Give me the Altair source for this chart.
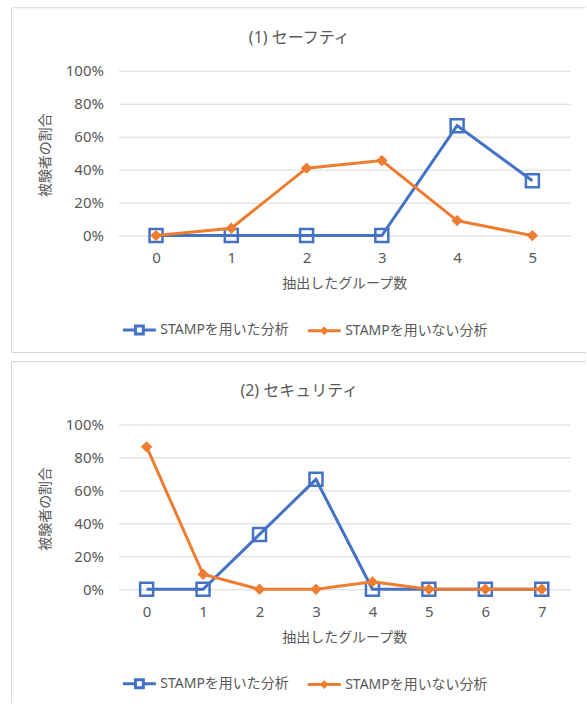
import altair as alt
import pandas as pd

# ---------------- data ----------------
series_names = ["STAMPを用いた分析", "STAMPを用いない分析"]
series_colors = ["#4472C4", "#ED7D31"]

titles = ["(1) セーフティ", "(2) セキュリティ"]

groups1 = ["0", "1", "2", "3", "4", "5"]
stamp1 = [0.0, 0.0, 0.0, 0.0, 0.667, 0.333]
nostamp1 = [0.0, 0.045, 0.409, 0.455, 0.091, 0.0]

groups2 = ["0", "1", "2", "3", "4", "5", "6", "7"]
stamp2 = [0.0, 0.0, 0.333, 0.667, 0.0, 0.0, 0.0, 0.0]
nostamp2 = [0.864, 0.091, 0.0, 0.0, 0.045, 0.0, 0.0, 0.0]

y_ticks = [0.0, 0.2, 0.4, 0.6, 0.8, 1.0]
x_title = "抽出したグループ数"
y_title = "被験者の割合"

# ---------------- style ----------------
FONT = "Noto Sans, Noto Sans CJK JP"
TEXT = "#595959"
GRID = "#D9D9D9"
W, H = 452, 165

legend_paths = [
    "M-1,0H-0.24M0.24,0H1M-0.24,-0.24H0.24V0.24H-0.24Z",
    "M-1,0H1M0,-0.14L0.14,0L0,0.14L-0.14,0Z",
]


def make_panel(title, groups, used, unused, box_bottom, bottom_edge):
    n = len(groups)
    df = pd.DataFrame({
        "group": list(groups) * 2,
        "series": [series_names[0]] * n + [series_names[1]] * n,
        "value": list(used) + list(unused),
    })
    x_enc = alt.X(
        "group:O", sort=list(groups),
        scale=alt.Scale(type="point", padding=0.5),
        title=x_title,
        axis=alt.Axis(labelAngle=0, ticks=False, domain=False, grid=False,
                      labelPadding=15, labelFontSize=15, labelColor=TEXT,
                      titleFontSize=14, titleColor=TEXT, titleFontWeight="normal",
                      titleY=48, titleBaseline="middle"),
    )
    y_enc = alt.Y(
        "value:Q", scale=alt.Scale(domain=[0, 1], nice=False), title=y_title,
        axis=alt.Axis(values=y_ticks, format=".0%", ticks=False, domain=False,
                      grid=True, gridColor=GRID, gridWidth=1,
                      labelPadding=15, labelFontSize=15, labelColor=TEXT,
                      titleFontSize=14, titleColor=TEXT, titleFontWeight="normal",
                      titleX=-73, titleY=84, titleBaseline="middle", titleAngle=270),
    )
    base = alt.Chart(df).encode(x=x_enc, y=y_enc)
    s0 = base.transform_filter(alt.datum.series == series_names[0])
    s1 = base.transform_filter(alt.datum.series == series_names[1])

    line0 = s0.mark_line(strokeWidth=3, color=series_colors[0])
    pts0 = s0.mark_point(shape="square", size=169, filled=False, strokeWidth=2.5,
                         opacity=1, color=series_colors[0])
    line1 = s1.mark_line(strokeWidth=3, color=series_colors[1])
    pts1 = s1.mark_point(shape="diamond", size=130, filled=True, opacity=1,
                         color=series_colors[1])

    legend_kw = dict(orient="none", legendX=3, legendY=241.5, direction="horizontal",
                     symbolSize=1089, symbolStrokeWidth=3, labelFontSize=14,
                     labelColor=TEXT, labelOffset=3, columnPadding=12, padding=0)
    leg = alt.Chart(df).transform_filter("false").mark_point(
        filled=False, opacity=1, strokeWidth=3
    ).encode(
        x=x_enc, y=y_enc,
        color=alt.Color("series:N", scale=alt.Scale(domain=series_names, range=series_colors),
                        title=None, legend=alt.Legend(**legend_kw)),
        shape=alt.Shape("series:N", scale=alt.Scale(domain=series_names, range=legend_paths),
                        title=None, legend=alt.Legend(**legend_kw)),
    )

    deco = alt.Chart(pd.DataFrame({"k": [0]}))
    title_mark = deco.mark_text(fontSize=16, color=TEXT, align="center", baseline="middle").encode(
        x=alt.value(181), y=alt.value(-33), text=alt.value(title))
    left_edge = deco.mark_rule(color=GRID, strokeWidth=1).encode(
        x=alt.value(-107), y=alt.value(-63), y2=alt.value(box_bottom))
    top_edge = deco.mark_rule(color=GRID, strokeWidth=1).encode(
        x=alt.value(-107), x2=alt.value(468), y=alt.value(-63))
    layers = [left_edge, top_edge]
    if bottom_edge:
        layers.append(deco.mark_rule(color=GRID, strokeWidth=1).encode(
            x=alt.value(-107), x2=alt.value(468), y=alt.value(box_bottom)))
    layers += [title_mark, line0, pts0, line1, pts1, leg]
    return alt.layer(*layers).properties(width=W, height=H)


top = make_panel(titles[0], groups1, stamp1, nostamp1, 282, True)
bottom = make_panel(titles[1], groups2, stamp2, nostamp2, 279, False)

chart = alt.vconcat(top, bottom, spacing=189, bounds="flush").resolve_scale(
    color="independent", shape="independent"
).resolve_legend(
    color="independent", shape="independent"
).properties(
    padding={"left": 10.5, "top": 6.5, "right": 0, "bottom": 0}
).configure(font=FONT).configure_view(strokeOpacity=0)

chart.save("out.html", embed_options={"renderer": "svg", "actions": False})
